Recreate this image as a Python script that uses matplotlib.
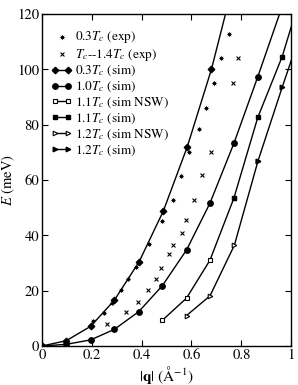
import matplotlib
matplotlib.use("Agg")
import matplotlib.pyplot as plt

plt.rcParams['font.family'] = ['STIXGeneral', 'DejaVu Serif']
plt.rcParams['mathtext.fontset'] = 'stix'
plt.rcParams['font.size'] = 9

# 0.3Tc (exp)
q_exp03 = [0.204, 0.247, 0.28, 0.319, 0.346, 0.378, 0.43, 0.483, 0.525, 0.557,
           0.588, 0.63, 0.66, 0.69, 0.72, 0.75]
E_exp03 = [8.9, 12.1, 15.5, 20.2, 24.2, 28.4, 36.9, 45.3, 52.9, 61.5,
           70.0, 78.6, 86.1, 95.2, 104.2, 112.6]
# Tc--1.4Tc (exp)
q_exp14 = [0.262, 0.336, 0.385, 0.427, 0.459, 0.478, 0.51, 0.526, 0.563, 0.577,
           0.609, 0.643, 0.677, 0.768, 0.785]
E_exp14 = [7.9, 12.2, 16.0, 20.3, 24.2, 28.1, 33.2, 36.4, 41.0, 45.7,
           52.9, 61.8, 70.0, 95.2, 104.0]
# simulations
q_s03 = [0, 0.097, 0.195, 0.29, 0.39, 0.487, 0.583, 0.68, 0.776]
E_s03 = [0, 1.9, 7.1, 16.5, 30.5, 48.8, 72.0, 100.0, 134.0]
q_s10 = [0, 0.097, 0.195, 0.29, 0.388, 0.483, 0.58, 0.674, 0.77, 0.866, 0.963]
E_s10 = [0, 0.6, 2.2, 6.0, 12.4, 21.8, 34.7, 51.6, 73.2, 97.3, 122.5]
q_s11n = [0.483, 0.58, 0.674, 0.77]
E_s11n = [9.3, 17.3, 31.0, 53.4]
q_s11 = [0.77, 0.866, 0.964, 1.06]
E_s11 = [53.4, 82.6, 104.6, 133.0]
q_s12n = [0.58, 0.674, 0.772, 0.867]
E_s12n = [11.0, 18.1, 36.4, 66.9]
q_s12 = [0.867, 0.964, 1.06]
E_s12 = [66.9, 93.5, 119.0]

fig = plt.figure(figsize=(2.98, 3.85), dpi=100)
ax = fig.add_axes([0.141, 0.1013, 0.836, 0.8623])

ms = 3.3
lw = 1.0
ax.scatter(q_exp03, E_exp03, marker=(8, 1, 0), s=17, color='black', linewidths=0,
           label=r'0.3$T_c$ (exp)', zorder=3)
ax.scatter(q_exp14, E_exp14, marker='x', s=8, color='black', linewidths=0.8,
           label=r'$T_c$--1.4$T_c$ (exp)', zorder=3)
ax.plot(q_s03, E_s03, '-D', color='black', ms=ms, lw=lw, label=r'0.3$T_c$ (sim)')
ax.plot(q_s10, E_s10, '-o', color='black', ms=ms + 0.6, lw=lw, label=r'1.0$T_c$ (sim)')
ax.plot(q_s11n, E_s11n, '-s', color='black', mfc='white', ms=ms, mew=0.8, lw=lw,
        label=r'1.1$T_c$ (sim NSW)')
ax.plot(q_s11, E_s11, '-s', color='black', ms=ms, lw=lw, label=r'1.1$T_c$ (sim)')
ax.plot(q_s12n, E_s12n, '->', color='black', mfc='white', ms=ms, mew=0.8, lw=lw,
        label=r'1.2$T_c$ (sim NSW)')
ax.plot(q_s12, E_s12, '->', color='black', ms=ms, lw=lw, label=r'1.2$T_c$ (sim)')

ax.set_xlim(0, 1)
ax.set_ylim(0, 120)
ax.set_xticks([0, 0.2, 0.4, 0.6, 0.8, 1])
ax.set_xticklabels(['0', '0.2', '0.4', '0.6', '0.8', '1'])
ax.set_yticks([0, 20, 40, 60, 80, 100, 120])
ax.tick_params(direction='in', top=True, right=True, length=4, labelsize=10.5, pad=2)
for s in ax.spines.values():
    s.set_linewidth(1.0)
ax.set_xlabel(r'$|\mathbf{q}|$ (Å$^{-1}$)', fontsize=11, labelpad=1)
ax.set_ylabel(r'$E$ (meV)', fontsize=10.5, labelpad=0)

ax.legend(loc='upper left', frameon=False, fontsize=9.5, numpoints=2, scatterpoints=1,
          handlelength=1.6, handletextpad=0.2, labelspacing=0.1,
          borderaxespad=0.3, bbox_to_anchor=(0.0, 0.982))

fig.savefig('out.png', dpi=100)
